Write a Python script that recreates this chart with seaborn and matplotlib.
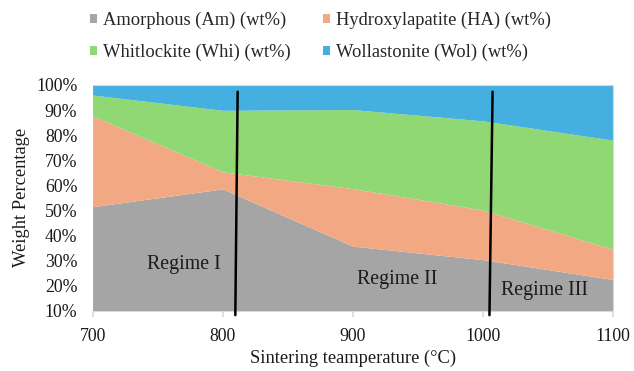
import matplotlib
matplotlib.use("Agg")
import matplotlib.pyplot as plt
import seaborn as sns
import numpy as np

temps = [700, 800, 900, 1000, 1100]
amorphous = [51.5, 58.6, 35.8, 30.4, 22.5]
hydroxylapatite = [36.2, 6.8, 22.9, 19.8, 12.0]
whitlockite = [8.3, 24.5, 31.5, 35.5, 43.5]
wollastonite = [4.0, 10.1, 9.8, 14.3, 22.0]
series_labels = ["Amorphous (Am) (wt%)", "Hydroxylapatite (HA) (wt%)",
                 "Whitlockite (Whi) (wt%)", "Wollastonite (Wol) (wt%)"]
colors = ["#A5A5A5", "#F2A983", "#8FD873", "#45AFE0"]

regime_lines = [((811.5, 809.7), (97.3, 8.3)), ((1007.4, 1005.0), (97.3, 8.3))]
regime_texts = ["Regime I", "Regime II", "Regime III"]
regime_pos = [(770, 28.5), (934, 22.6), (1047, 18.0)]

sns.set_theme(style="white")
plt.rcParams["font.family"] = ["Liberation Serif", "DejaVu Serif"]

fig = plt.figure(figsize=(6.34, 3.71), dpi=100)
ax = fig.add_axes([0.146, 0.162, 0.821, 0.609])

polys = ax.stackplot(temps, amorphous, hydroxylapatite, whitlockite, wollastonite,
                     colors=colors, labels=series_labels, linewidth=0)

for xs, ys in regime_lines:
    ax.plot(xs, ys, color="black", lw=1.8, clip_on=False, zorder=5)
for t, (x, y) in zip(regime_texts, regime_pos):
    ax.text(x, y, t, ha="center", va="center", fontsize=14.3, color="#1a1a1a")

ax.set_xlim(700, 1100)
ax.set_ylim(10, 100)
ax.set_xticks(temps)
ax.set_yticks(np.arange(10, 101, 10))
ax.set_yticklabels([f"{v}%" for v in range(10, 101, 10)])
ax.tick_params(axis="y", labelsize=12.8, colors="#1a1a1a", length=0, pad=11)
ax.tick_params(axis="x", labelsize=12.8, labelcolor="#1a1a1a", length=4,
               color="#d9d9d9", direction="out", bottom=True, pad=8)
ax.set_xlabel("Sintering teamperature (°C)", fontsize=13.3, color="#1a1a1a", labelpad=4)
ax.set_ylabel("Weight Percentage", fontsize=13.3, color="#1a1a1a", labelpad=4)

for side in ["top", "right", "bottom"]:
    ax.spines[side].set_visible(True)
    ax.spines[side].set_color("#d9d9d9")
    ax.spines[side].set_linewidth(0.8)
ax.spines["left"].set_visible(False)

order = [0, 2, 1, 3]
fig.legend([polys[i] for i in order], [series_labels[i] for i in order],
           loc="upper left", bbox_to_anchor=(0.1427, 0.969), ncol=2, frameon=False,
           fontsize=13.3, handlelength=0.38, handleheight=0.38, handletextpad=0.3,
           columnspacing=1.77, labelspacing=0.83, borderpad=0, borderaxespad=0)

fig.savefig("out.png", dpi=100)
